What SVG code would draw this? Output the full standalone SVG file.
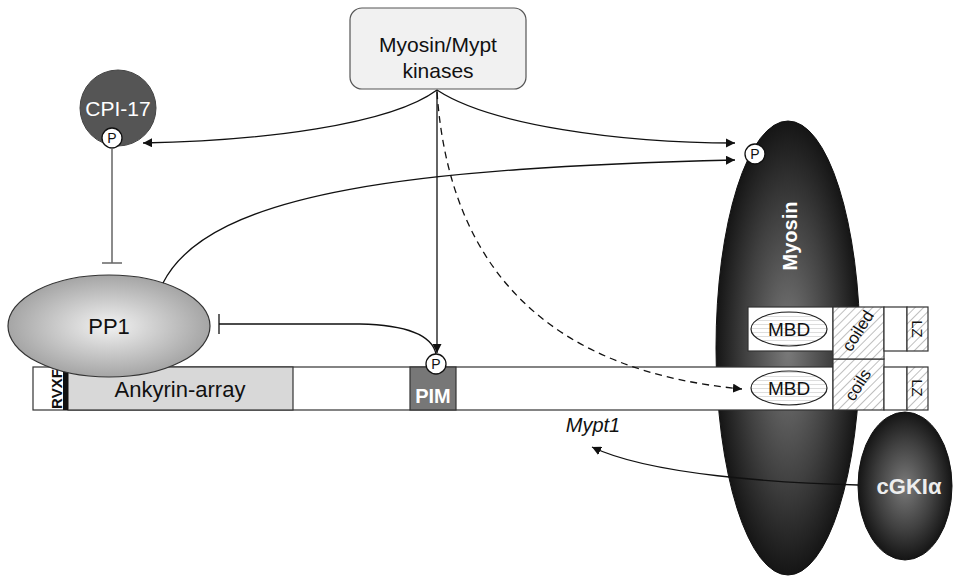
<svg xmlns="http://www.w3.org/2000/svg" width="958" height="578" viewBox="0 0 958 578">
<style>
text{font-family:"Liberation Sans",Arial,sans-serif}
.ln{fill:none;stroke:#111;stroke-width:1.3}
.box{stroke:#333;stroke-width:1.2}
.p{fill:#fff;stroke:#111;stroke-width:1.3}
.pt{font-size:14px;text-anchor:middle;fill:#111}
.hatch{fill:url(#hatch);stroke:#333;stroke-width:1.2}
</style>
<defs>
<marker id="ah" viewBox="0 0 10 10" refX="10" refY="5" markerWidth="7" markerHeight="7" orient="auto-start-reverse"><path d="M0,0 L10,5 L0,10 z" fill="#111"/></marker>
<pattern id="hatch" width="6" height="6" patternUnits="userSpaceOnUse" patternTransform="rotate(45)"><rect width="6" height="6" fill="#fff"/><line x1="0" y1="0" x2="0" y2="6" stroke="#aaa" stroke-width="1.5"/></pattern>
<pattern id="stripe" width="4" height="4" patternUnits="userSpaceOnUse"><rect width="4" height="4" fill="#fff"/><line x1="0" y1="0.5" x2="4" y2="0.5" stroke="#ddd" stroke-width="1"/></pattern>
<radialGradient id="dark" cx="0.5" cy="0.5" r="0.5"><stop offset="0" stop-color="#7a7a7a"/><stop offset="0.6" stop-color="#404040"/><stop offset="1" stop-color="#151515"/></radialGradient>
<radialGradient id="light" cx="0.5" cy="0.5" r="0.5"><stop offset="0" stop-color="#f2f2f2"/><stop offset="1" stop-color="#a5a5a5"/></radialGradient>
</defs>

<g id="myosin">
<ellipse cx="788" cy="348" rx="72" ry="227" fill="url(#dark)" stroke="#111"/>
<text x="790" y="243" transform="rotate(-90 790 236)" font-size="20" font-weight="bold" fill="#fff" text-anchor="middle">Myosin</text>
<circle class="p" cx="755" cy="154" r="10"/><text class="pt" x="755" y="159">P</text>
</g>

<g id="kinases">
<rect x="350" y="8" width="176" height="81" rx="12" fill="#f1f1f1" stroke="#555" stroke-width="1.2"/>
<text x="438" y="52" font-size="21" text-anchor="middle" fill="#111">Myosin/Mypt</text>
<text x="438" y="78" font-size="21" text-anchor="middle" fill="#111">kinases</text>
</g>

<g id="cpi17">
<circle cx="118" cy="108" r="38" fill="#555" stroke="#444"/>
<text x="118" y="116" font-size="21" text-anchor="middle" fill="#fff">CPI-17</text>
<circle class="p" cx="112" cy="138" r="10"/><text class="pt" x="112" y="143">P</text>
</g>

<g id="mypt1">
<rect class="box" x="33" y="367" width="800" height="43" fill="#fff"/>
<rect class="box" x="68" y="367" width="225" height="43" fill="#d8d8d8"/>
<rect x="63" y="367" width="5" height="43" fill="#111"/>
<text x="56" y="389" transform="rotate(-90 56 389)" font-size="15" font-weight="bold" text-anchor="middle" dominant-baseline="central" fill="#111">RVXF</text>
<text x="180" y="397" font-size="22" text-anchor="middle" fill="#111">Ankyrin-array</text>
<rect class="box" x="410" y="367" width="46" height="43" fill="#777"/>
<text x="433" y="403" font-size="20" font-weight="bold" text-anchor="middle" fill="#fff">PIM</text>
<circle class="p" cx="436" cy="364" r="10"/><text class="pt" x="436" y="369">P</text>
<ellipse cx="789" cy="388" rx="38" ry="17" fill="url(#stripe)" stroke="#222" stroke-width="1.2"/>
<text x="789" y="395" font-size="19" text-anchor="middle" fill="#111">MBD</text>
<rect class="hatch" x="833" y="359" width="51" height="51"/>
<text x="858" y="385" transform="rotate(-58 858 385)" font-size="17" text-anchor="middle" dominant-baseline="central" fill="#111">coils</text>
<rect class="box" x="884" y="367" width="23" height="43" fill="#fff"/>
<rect class="hatch" x="907" y="367" width="21" height="43"/>
<text x="917" y="388" transform="rotate(90 917 388)" font-size="15" text-anchor="middle" dominant-baseline="central" fill="#111">LZ</text>
<text x="593" y="432" font-size="20" font-style="italic" text-anchor="middle" fill="#111">Mypt1</text>
</g>

<g id="mypt1-partner">
<rect class="box" x="748" y="307" width="85" height="44" fill="#fff"/>
<ellipse cx="789" cy="329" rx="38" ry="17" fill="url(#stripe)" stroke="#222" stroke-width="1.2"/>
<text x="789" y="336" font-size="19" text-anchor="middle" fill="#111">MBD</text>
<rect class="hatch" x="833" y="307" width="51" height="52"/>
<text x="858" y="331" transform="rotate(-58 858 331)" font-size="17" text-anchor="middle" dominant-baseline="central" fill="#111">coiled</text>
<rect class="box" x="884" y="307" width="23" height="44" fill="#fff"/>
<rect class="hatch" x="907" y="307" width="21" height="44"/>
<text x="917" y="329" transform="rotate(90 917 329)" font-size="15" text-anchor="middle" dominant-baseline="central" fill="#111">LZ</text>
</g>

<g id="pp1">
<ellipse cx="109" cy="326" rx="101" ry="51" fill="url(#light)" stroke="#333" stroke-width="1.2"/>
<text x="109" y="334" font-size="22" text-anchor="middle" fill="#111">PP1</text>
</g>

<g id="cgki">
<ellipse cx="905" cy="486" rx="47" ry="74" fill="url(#dark)" stroke="#111"/>
<text x="909" y="494" font-size="22" font-weight="bold" text-anchor="middle" fill="#eee">cGKIα</text>
</g>

<g id="connectors">
<path class="ln" d="M437,90 C390,125 260,141 143,143" marker-end="url(#ah)"/>
<path class="ln" d="M437,90 C490,125 620,143 735,143" marker-end="url(#ah)"/>
<path class="ln" d="M437,90 L437,353" marker-end="url(#ah)"/>
<path class="ln" d="M437,92 C450,280 560,372 742,389" stroke-dasharray="7,5" marker-end="url(#ah)"/>
<path class="ln" d="M163,283 C210,190 420,168 735,160" marker-end="url(#ah)"/>
<path d="M112,148 L112,263 M102,263 L122,263" fill="none" stroke="#666" stroke-width="1.5"/>
<path class="ln" d="M219,324 L360,324 C405,325 432,335 436,354"/>
<path class="ln" d="M219,314 L219,334"/>
<path class="ln" d="M858,485 C780,483 650,475 592,447" marker-end="url(#ah)"/>
</g>
</svg>
